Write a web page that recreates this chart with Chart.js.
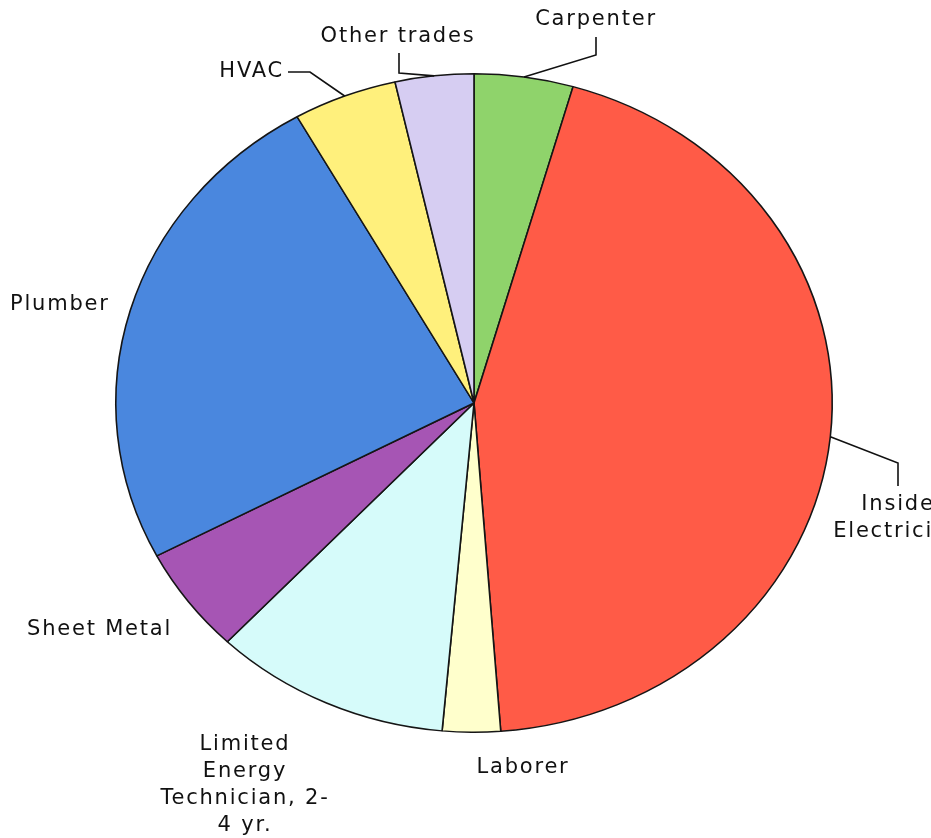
<!DOCTYPE html>
<html>
<head>
<meta charset="utf-8">
<script src="https://cdn.jsdelivr.net/npm/chart.js@4/dist/chart.umd.min.js"></script>
<style>
  html, body { margin: 0; padding: 0; background: #fff; }
  #wrap { width: 931px; height: 838px; position: relative; }
</style>
</head>
<body>
<div id="wrap"><canvas id="tradesPie"></canvas></div>
<script>
// slice data, clockwise from 12 o'clock
const trades = ['Carpenter', 'Inside Electrician', 'Laborer', 'Limited Energy Technician, 2-4 yr.',
    'Sheet Metal', 'Plumber', 'HVAC', 'Other trades'];
const shares = [4.46, 44.35, 2.61, 10.67, 5.22, 24.47, 4.68, 3.54];
const sliceColors = ['#8fd36b', '#ff5b47', '#ffffcc', '#d6fbfa', '#a655b4', '#4a87de', '#fff07c', '#d6cdf2'];

// the picture is squashed vertically a bit
const squash = 0.919;

// how each label is placed (lines = text rows, path = leader line points after the slice anchor)
const labelLayout = [
    {lines: ['Carpenter'], x: 596, y: 20, align: 'center', path: [[596, 55], [596, 37]]},
    {lines: ['Inside', 'Electrician'], x: 898, y: 505, align: 'center', path: [[898, 463], [898, 486]]},
    {lines: ['Laborer'], x: 523, y: 768, align: 'center'},
    {lines: ['Limited', 'Energy', 'Technician, 2-', '4 yr.'], x: 245, y: 745, align: 'center'},
    {lines: ['Sheet Metal'], x: 27, y: 630, align: 'left'},
    {lines: ['Plumber'], x: 10, y: 305, align: 'left'},
    {lines: ['HVAC'], x: 284, y: 72, align: 'right', path: [[310, 72], [288, 72]]},
    {lines: ['Other trades'], x: 398, y: 37, align: 'center', path: [[399, 73], [399, 53]]}
];

const squashPlugin = {
    id: 'squash',
    beforeDatasetsDraw(chart) {
        const arc = chart.getDatasetMeta(0).data[0];
        const ctx = chart.ctx;
        ctx.save();
        ctx.translate(arc.x, arc.y);
        ctx.scale(1, squash);
        ctx.translate(-arc.x, -arc.y);
    },
    afterDatasetsDraw(chart) {
        chart.ctx.restore();
    }
};

const labelPlugin = {
    id: 'outsideLabels',
    afterDraw(chart) {
        const ctx = chart.ctx;
        const meta = chart.getDatasetMeta(0);
        ctx.save();
        ctx.font = '21px "DejaVu Sans", Verdana, sans-serif';
        ctx.letterSpacing = '1.8px';
        ctx.fillStyle = '#111';
        ctx.strokeStyle = '#111';
        ctx.lineWidth = 1.6;
        ctx.textBaseline = 'middle';
        meta.data.forEach((arc, i) => {
            const lay = labelLayout[i];
            if (lay.path) {
                const mid = (arc.startAngle + arc.endAngle) / 2;
                const ax = arc.x + Math.cos(mid) * arc.outerRadius;
                const ay = arc.y + Math.sin(mid) * arc.outerRadius * squash;
                ctx.beginPath();
                ctx.moveTo(ax, ay);
                lay.path.forEach(p => ctx.lineTo(p[0], p[1]));
                ctx.stroke();
            }
            ctx.textAlign = lay.align;
            lay.lines.forEach((t, k) => ctx.fillText(t, lay.x, lay.y + k * 27));
        });
        ctx.restore();
    }
};

new Chart(document.getElementById('tradesPie').getContext('2d'), {
    type: 'pie',
    data: {
        labels: trades,
        datasets: [{
            data: shares,
            backgroundColor: sliceColors,
            borderColor: '#151515',
            borderWidth: 1.6
        }]
    },
    options: {
        responsive: true,
        maintainAspectRatio: false,
        animation: false,
        layout: {padding: {left: 115, right: 98, top: 44, bottom: 76}},
        plugins: {
            legend: {display: false},
            tooltip: {enabled: false}
        }
    },
    plugins: [squashPlugin, labelPlugin]
});
</script>
</body>
</html>
